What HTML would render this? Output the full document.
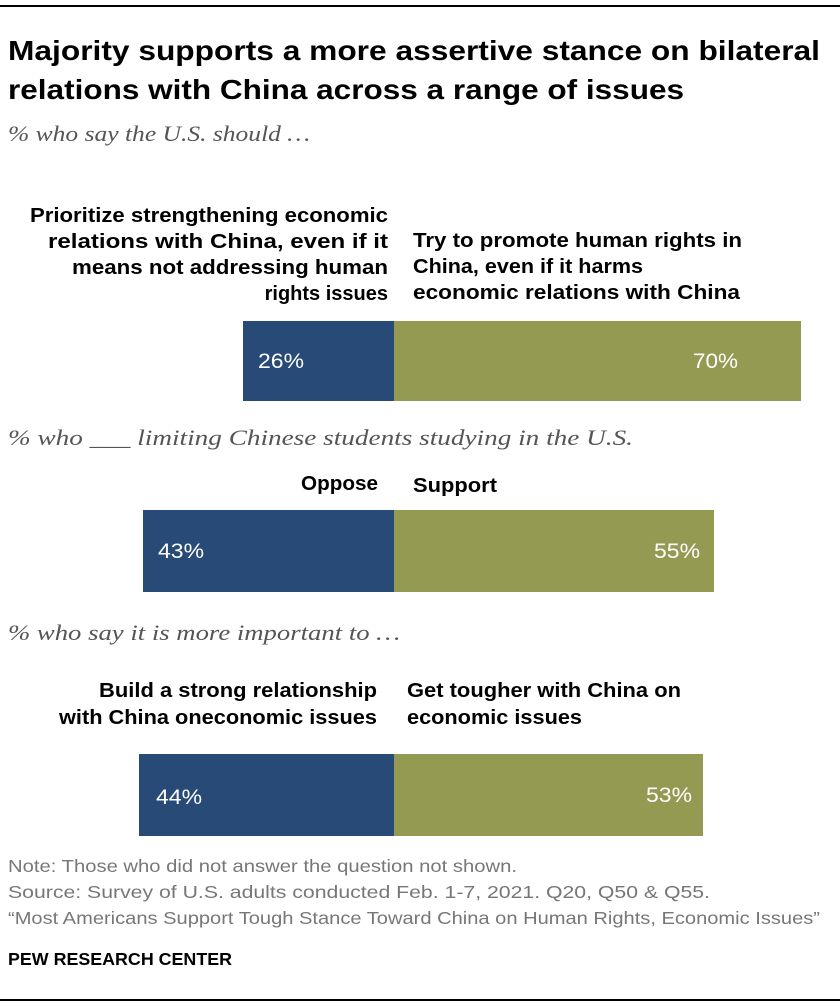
<!DOCTYPE html>
<html><head><meta charset="utf-8"><style>
html,body{margin:0;padding:0;background:#fff;}
svg{display:block;}
.t{font-family:"Liberation Sans",sans-serif;font-weight:bold;font-size:28px;fill:#000;}
.s{font-family:"Liberation Serif",serif;font-style:italic;font-size:22px;fill:#555;}
.l{font-family:"Liberation Sans",sans-serif;font-weight:bold;font-size:20px;fill:#000;}
.v{font-family:"Liberation Sans",sans-serif;font-size:21px;fill:#fff;}
.n{font-family:"Liberation Sans",sans-serif;font-size:17.5px;fill:#777;}
.p{font-family:"Liberation Sans",sans-serif;font-weight:bold;font-size:17.5px;fill:#000;}
</style></head><body>
<svg width="840" height="1008" viewBox="0 0 840 1008" xmlns="http://www.w3.org/2000/svg">
<rect x="0" y="5" width="840" height="2" fill="#000"/>
<text class="t" x="8" y="60" textLength="812" lengthAdjust="spacingAndGlyphs">Majority supports a more assertive stance on bilateral</text>
<text class="t" x="8" y="99" textLength="676" lengthAdjust="spacingAndGlyphs">relations with China across a range of issues</text>
<text class="s" x="8" y="141" textLength="302" lengthAdjust="spacingAndGlyphs">% who say the U.S. should …</text>

<text class="l" x="30" y="222" textLength="358" lengthAdjust="spacingAndGlyphs">Prioritize strengthening economic</text>
<text class="l" x="48" y="248" textLength="340" lengthAdjust="spacingAndGlyphs">relations with China, even if it</text>
<text class="l" x="72" y="274" textLength="316" lengthAdjust="spacingAndGlyphs">means not addressing human</text>
<text class="l" x="388" y="300" text-anchor="end">rights issues</text>
<text class="l" x="413" y="247" textLength="329" lengthAdjust="spacingAndGlyphs">Try to promote human rights in</text>
<text class="l" x="413" y="273" textLength="230" lengthAdjust="spacingAndGlyphs">China, even if it harms</text>
<text class="l" x="413" y="299" textLength="327" lengthAdjust="spacingAndGlyphs">economic relations with China</text>
<rect x="243" y="321" width="151" height="80" fill="#284a77"/>
<rect x="394" y="321" width="407" height="80" fill="#959a53"/>
<text class="v" x="258" y="368" textLength="46" lengthAdjust="spacingAndGlyphs">26%</text>
<text class="v" x="693" y="368" textLength="45" lengthAdjust="spacingAndGlyphs">70%</text>

<text class="s" x="8" y="445" textLength="625" lengthAdjust="spacingAndGlyphs">% who ___ limiting Chinese students studying in the U.S.</text>
<text class="l" x="301" y="490" textLength="77" lengthAdjust="spacingAndGlyphs">Oppose</text>
<text class="l" x="413" y="492" textLength="84" lengthAdjust="spacingAndGlyphs">Support</text>
<rect x="143" y="510" width="251" height="82" fill="#284a77"/>
<rect x="394" y="510" width="320" height="82" fill="#959a53"/>
<text class="v" x="158" y="558" textLength="46" lengthAdjust="spacingAndGlyphs">43%</text>
<text class="v" x="654" y="558" textLength="46" lengthAdjust="spacingAndGlyphs">55%</text>

<text class="s" x="8" y="640" textLength="392" lengthAdjust="spacingAndGlyphs">% who say it is more important to …</text>
<text class="l" x="99" y="697" textLength="278" lengthAdjust="spacingAndGlyphs">Build a strong relationship</text>
<text class="l" x="59" y="724" textLength="318" lengthAdjust="spacingAndGlyphs">with China oneconomic issues</text>
<text class="l" x="407" y="697" textLength="274" lengthAdjust="spacingAndGlyphs">Get tougher with China on</text>
<text class="l" x="407" y="724" textLength="175" lengthAdjust="spacingAndGlyphs">economic issues</text>
<rect x="139" y="754" width="255" height="82" fill="#284a77"/>
<rect x="394" y="754" width="309" height="82" fill="#959a53"/>
<text class="v" x="156" y="804" textLength="46" lengthAdjust="spacingAndGlyphs">44%</text>
<text class="v" x="646" y="802" textLength="46" lengthAdjust="spacingAndGlyphs">53%</text>

<text class="n" x="8" y="872" textLength="509" lengthAdjust="spacingAndGlyphs">Note: Those who did not answer the question not shown.</text>
<text class="n" x="8" y="898" textLength="702" lengthAdjust="spacingAndGlyphs">Source: Survey of U.S. adults conducted Feb. 1-7, 2021. Q20, Q50 &amp; Q55.</text>
<text class="n" x="8" y="924" textLength="812" lengthAdjust="spacingAndGlyphs">“Most Americans Support Tough Stance Toward China on Human Rights, Economic Issues”</text>
<text class="p" x="8" y="965" textLength="224" lengthAdjust="spacingAndGlyphs">PEW RESEARCH CENTER</text>
<rect x="0" y="999" width="840" height="2" fill="#000"/>
</svg>
</body></html>
